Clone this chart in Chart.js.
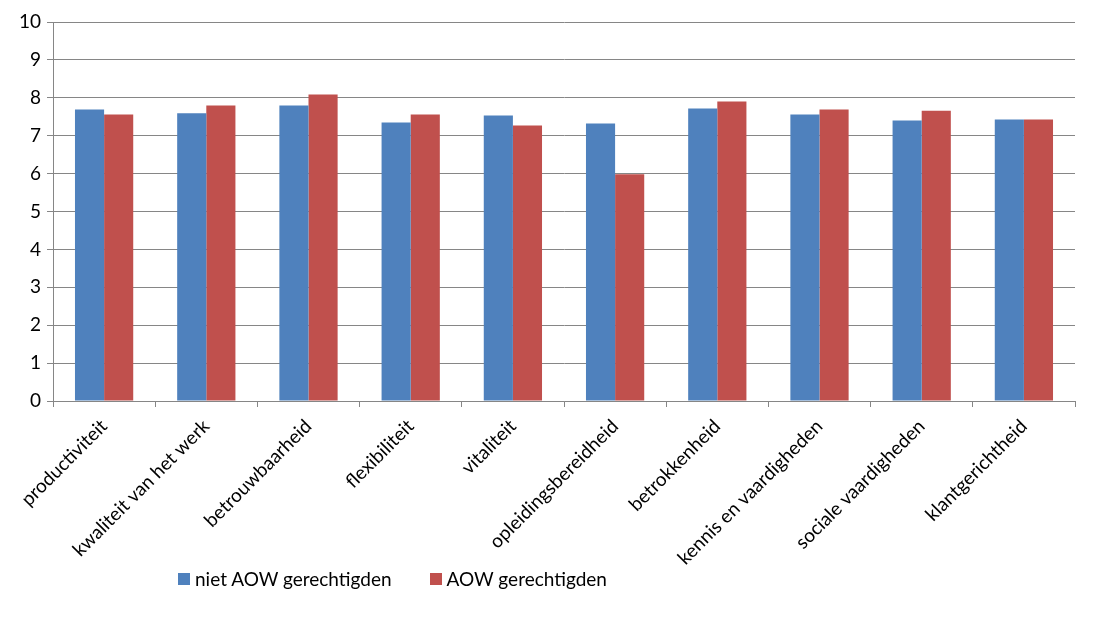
<!DOCTYPE html>
<html>
<head>
<meta charset="utf-8">
<script src="https://cdn.jsdelivr.net/npm/chart.js@4"></script>
<style>
  body { margin: 0; background: #fff; }
  #wrap { position: relative; width: 1097px; height: 638px; }
  #legend { position: absolute; left: 178px; top: 567px; font: 19px Lato, sans-serif; color: #000; display: flex; }
  #legend span.item { display: flex; align-items: center; margin-right: 38px; }
  #legend i { display: inline-block; width: 12px; height: 12px; margin-right: 5px; }
</style>
</head>
<body>
<div id="wrap">
  <canvas id="chart" width="1097" height="638"></canvas>
  <div id="legend"></div>
</div>
<script>
const categories = ["productiviteit", "kwaliteit van het werk", "betrouwbaarheid", "flexibiliteit", "vitaliteit",
  "opleidingsbereidheid", "betrokkenheid", "kennis en vaardigheden", "sociale vaardigheden", "klantgerichtheid"];
const nietAow = [7.69, 7.59, 7.80, 7.35, 7.53, 7.32, 7.72, 7.56, 7.40, 7.43];
const aow = [7.56, 7.80, 8.09, 7.56, 7.27, 5.98, 7.90, 7.69, 7.66, 7.43];
const seriesNames = ["niet AOW gerechtigden", "AOW gerechtigden"];
const colors = ["#4f81bd", "#c0504d"];

// legend as html, Excel places it bottom-left
document.getElementById("legend").innerHTML = seriesNames.map((n, i) =>
  `<span class="item"><i style="background:${colors[i]}"></i>${n}</span>`).join("");

const ctx = document.getElementById("chart").getContext("2d");
new Chart(ctx, {
  type: "bar",
  data: {
    labels: categories,
    datasets: [
      { label: seriesNames[0], data: nietAow, backgroundColor: colors[0] },
      { label: seriesNames[1], data: aow, backgroundColor: colors[1] }
    ]
  },
  options: {
    responsive: false,
    animation: false,
    layout: { padding: { top: 22, right: 22, left: 0, bottom: 0 } },
    datasets: { bar: { categoryPercentage: 0.57, barPercentage: 1.0 } },
    plugins: { legend: { display: false }, tooltip: { enabled: false } },
    scales: {
      x: {
        afterFit: s => { s.height = 237; },
        grid: { display: true, drawOnChartArea: false, color: "#868686", tickLength: 6, offset: true },
        border: { color: "#868686" },
        ticks: { maxRotation: 45, minRotation: 45, padding: 8, color: "#000", font: { family: "Lato", size: 19 } }
      },
      y: {
        min: 0, max: 10,
        afterFit: s => { s.width = 53; },
        grid: { color: "#868686", tickLength: 6 },
        border: { color: "#868686" },
        ticks: { stepSize: 1, color: "#000", padding: 6, font: { family: "Lato", size: 19 } }
      }
    }
  }
});
</script>
</body>
</html>
